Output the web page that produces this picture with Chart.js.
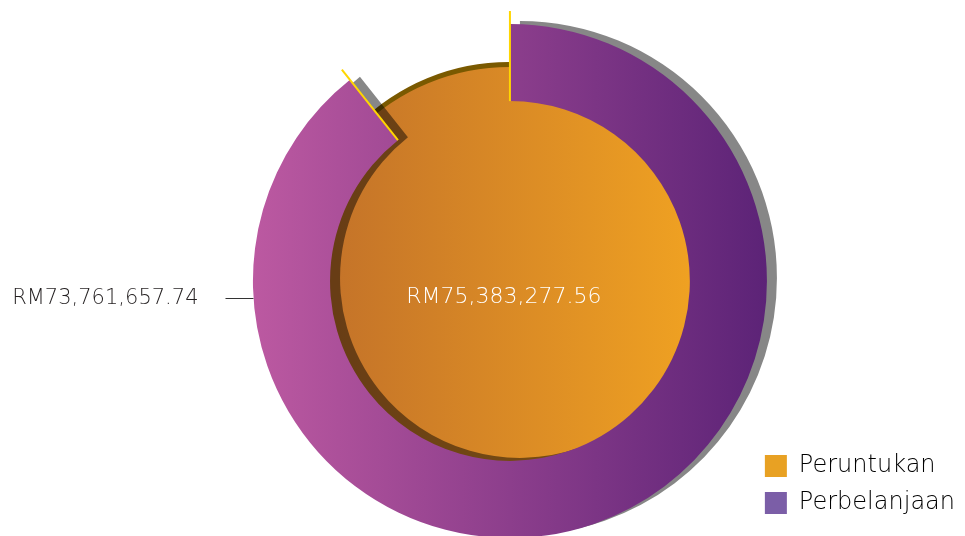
<!DOCTYPE html>
<html>
<head>
<meta charset="utf-8">
<script src="https://cdn.jsdelivr.net/npm/chart.js@4.4.1/dist/chart.umd.min.js"></script>
<style>
    body { margin: 0; background: #fff; overflow: hidden; }
    #wrap { position: relative; width: 965px; height: 536px; overflow: hidden; }
    #wrap canvas { position: absolute; left: 0; top: 0; }
</style>
</head>
<body>
<div id="wrap">
    <canvas id="baseChart" width="965" height="560"></canvas>
    <canvas id="ringChart" width="965" height="560"></canvas>
</div>
<script>
const categories = ['Peruntukan', 'Perbelanjaan'];
const peruntukan = [75383277.56];
const perbelanjaan = [73761657.74];
const legendColors = ['#e8a123', '#7b5ea7'];

const FONT = "'DejaVu Sans', sans-serif";

function formatRM(value) {
    return 'RM' + value.toLocaleString('en-US', { minimumFractionDigits: 2, maximumFractionDigits: 2 });
}

function horizontalGradient(context, halfWidth, from, to) {
    const chart = context.chart;
    const area = chart.chartArea;
    if (!area) return from;
    const cx = (area.left + area.right) / 2;
    const g = chart.ctx.createLinearGradient(cx - halfWidth, 0, cx + halfWidth, 0);
    g.addColorStop(0, from);
    g.addColorStop(1, to);
    return g;
}

// flat offset shadow under the arcs
function shadowPlugin(color, dx, dy, extra) {
    return {
        id: 'flatShadow',
        beforeDatasetsDraw(chart) {
            const ctx = chart.ctx;
            ctx.save();
            ctx.shadowColor = color;
            ctx.shadowBlur = 0;
            ctx.shadowOffsetX = dx;
            ctx.shadowOffsetY = dy;
        },
        afterDatasetsDraw(chart) {
            chart.ctx.restore();
            if (extra) extra(chart);
        }
    };
}

// base: Peruntukan pie, shows through the ring hole and the gap
const baseChart = new Chart(document.getElementById('baseChart'), {
    type: 'pie',
    data: {
        labels: [categories[0]],
        datasets: [{
            label: categories[0],
            data: peruntukan,
            backgroundColor: (c) => horizontalGradient(c, 180, '#c47329', '#efa122'),
            borderWidth: 0
        }]
    },
    options: {
        responsive: false,
        animation: false,
        radius: 214,
        layout: { padding: { left: 55, right: 0, top: 34, bottom: 32 } },
        plugins: {
            legend: { display: false },
            tooltip: { enabled: false }
        }
    },
    plugins: [shadowPlugin('#7a5900', -1, -5)]
});

function drawExtras(chart) {
    const ctx = chart.ctx;
    const arc = chart.getDatasetMeta(0).data[0];
    const cx = arc.x, cy = arc.y;
    const rIn = arc.innerRadius, rOut = arc.outerRadius;

    // yellow edge lines at both ends of the ring
    ctx.save();
    ctx.strokeStyle = '#ffd600';
    ctx.lineWidth = 2;
    [arc.startAngle, arc.endAngle].forEach(a => {
        ctx.beginPath();
        ctx.moveTo(cx + Math.cos(a) * rIn, cy + Math.sin(a) * rIn);
        ctx.lineTo(cx + Math.cos(a) * (rOut + 13), cy + Math.sin(a) * (rOut + 13));
        ctx.stroke();
    });

    // left label for Perbelanjaan
    const ly = cy + 17;
    const x1 = cx - Math.sqrt(rOut * rOut - 17 * 17);
    const x0 = x1 - 28;
    ctx.strokeStyle = '#333';
    ctx.lineWidth = 1;
    ctx.beginPath();
    ctx.moveTo(x0, ly + 0.5);
    ctx.lineTo(x1, ly + 0.5);
    ctx.stroke();
    ctx.fillStyle = '#231f20';
    ctx.font = '200 21px ' + FONT;
    ctx.textAlign = 'right';
    ctx.textBaseline = 'middle';
    ctx.fillText(formatRM(perbelanjaan[0]), x0 - 27, ly + 1);

    // centre label for Peruntukan
    ctx.fillStyle = '#ffffff';
    ctx.font = '200 22px ' + FONT;
    ctx.textAlign = 'center';
    ctx.fillText(formatRM(peruntukan[0]), cx - 6, cy + 16);
    ctx.restore();
}

// top: Perbelanjaan ring with the legend
const ringChart = new Chart(document.getElementById('ringChart'), {
    type: 'doughnut',
    data: {
        labels: [categories[1]],
        datasets: [{
            label: categories[1],
            data: perbelanjaan,
            circumference: 321.5,
            backgroundColor: (c) => horizontalGradient(c, 257, '#bc59a1', '#5c2377'),
            borderWidth: 0
        }]
    },
    options: {
        responsive: false,
        animation: false,
        radius: 257,
        cutout: '70%',
        layout: { padding: { left: 268, right: 0, top: 34, bottom: 32 } },
        plugins: {
            tooltip: { enabled: false },
            legend: {
                position: 'right',
                align: 'end',
                labels: {
                    boxWidth: 22,
                    boxHeight: 22,
                    padding: 13,
                    color: '#231f20',
                    font: { family: FONT, size: 24, weight: '200' },
                    generateLabels: () => categories.map((name, i) => ({
                        text: name,
                        fillStyle: legendColors[i],
                        strokeStyle: legendColors[i],
                        lineWidth: 0,
                        hidden: false,
                        index: i
                    }))
                }
            }
        }
    },
    plugins: [shadowPlugin('rgba(0,0,0,0.47)', 10, -3, drawExtras)]
});
</script>
</body>
</html>
